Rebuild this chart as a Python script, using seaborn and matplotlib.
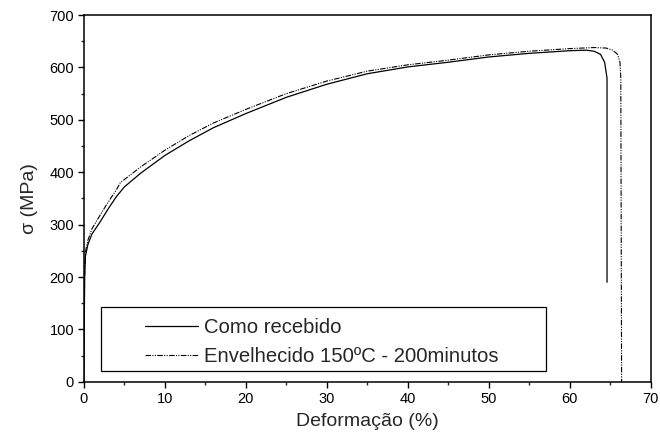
import matplotlib
matplotlib.use('Agg')
import matplotlib.pyplot as plt
from matplotlib.patches import Rectangle
import numpy as np
import pandas as pd
import seaborn as sns

# curves: strain (%) vs stress (MPa)
recebido_x = [0, 0.05, 0.1, 0.2, 0.5, 1, 2, 3, 4, 5, 7, 10, 13, 16, 20, 25, 30,
              35, 40, 45, 50, 55, 60, 62, 63, 63.8, 64.3, 64.6, 64.6]
recebido_y = [0, 100, 200, 240, 262, 282, 305, 330, 353, 372, 398, 432, 460, 485,
              512, 543, 568, 588, 601, 610, 620, 627, 632, 633, 631, 625, 610, 580, 190]

envelhecido_x = [0, 0.05, 0.1, 0.2, 0.5, 1, 2, 3, 4, 4.5, 5, 7, 10, 13, 16, 20, 25,
                 30, 35, 40, 45, 50, 55, 60, 63, 64.5, 65.3, 65.9, 66.2, 66.3, 66.4]
envelhecido_y = [0, 100, 200, 248, 270, 292, 318, 343, 366, 380, 386, 410, 442, 470,
                 494, 520, 550, 574, 593, 605, 614, 624, 631, 636, 638, 637, 633, 625,
                 610, 580, 0]

labels = ['Como recebido', 'Envelhecido 150ºC - 200minutos']

sns.set_style('ticks')
plt.rcParams['font.family'] = ['Liberation Sans', 'DejaVu Sans']

fig = plt.figure(figsize=(6.6, 4.43), dpi=100)
ax = fig.add_axes([0.127, 0.138, 0.859, 0.828])

df1 = pd.DataFrame({'x': recebido_x, 'y': recebido_y})
df2 = pd.DataFrame({'x': envelhecido_x, 'y': envelhecido_y})

sns.lineplot(data=df1, x='x', y='y', sort=False, estimator=None, ax=ax,
             color='black', linewidth=0.9, label=labels[0])
sns.lineplot(data=df2, x='x', y='y', sort=False, estimator=None, ax=ax,
             color='black', linewidth=0.8, label=labels[1])
ax.lines[1].set_dashes([5, 1.2, 1, 1.2, 1, 1.2])

ax.set_xlim(0, 70)
ax.set_ylim(0, 700)
ax.set_xticks(np.arange(0, 71, 10))
ax.set_xticks(np.arange(5, 70, 10), minor=True)
ax.set_yticks(np.arange(0, 701, 100))
ax.set_yticks(np.arange(50, 700, 100), minor=True)
ax.tick_params(which='major', direction='out', length=4, width=1, labelsize=10.5,
               colors='black', pad=3)
ax.tick_params(which='minor', direction='out', length=2.5, width=1)
for s in ax.spines.values():
    s.set_linewidth(1.1)
    s.set_color('black')

ax.set_xlabel('Deformação (%)', fontsize=14, labelpad=5)
ax.set_ylabel('σ (MPa)', fontsize=14, labelpad=8)

# legend box
ax.add_patch(Rectangle((0.0295, 0.030), 0.7865, 0.175, transform=ax.transAxes,
                       fill=False, edgecolor='black', linewidth=0.9, zorder=3))
leg = ax.legend(loc='upper left', bbox_to_anchor=(0.1076, 0.175), frameon=False,
                fontsize=14.6, handlelength=2.6, handletextpad=0.34,
                borderpad=0, borderaxespad=0, labelspacing=0.5)

fig.savefig('out.png', dpi=100)
